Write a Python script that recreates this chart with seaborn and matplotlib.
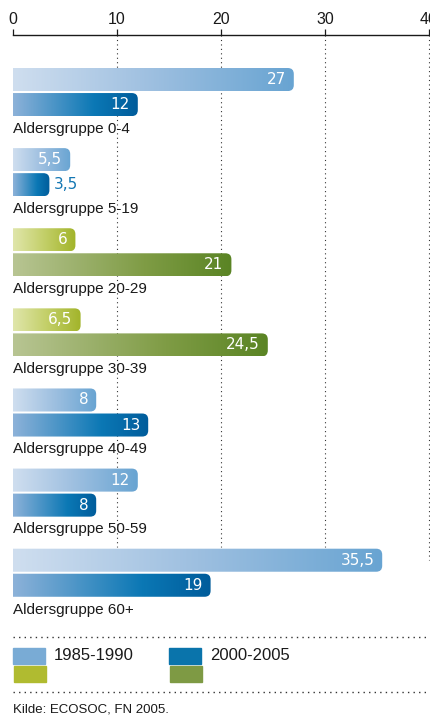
import numpy as np
import pandas as pd
import matplotlib
matplotlib.use("Agg")
import matplotlib.pyplot as plt
import seaborn as sns
from matplotlib.colors import LinearSegmentedColormap
from matplotlib.path import Path
from matplotlib.patches import PathPatch, Rectangle
from matplotlib.lines import Line2D

groups = ["Aldersgruppe 0-4", "Aldersgruppe 5-19", "Aldersgruppe 20-29",
          "Aldersgruppe 30-39", "Aldersgruppe 40-49", "Aldersgruppe 50-59",
          "Aldersgruppe 60+"]
periods = ["1985-1990", "2000-2005"]
v_1985 = [27, 5.5, 6, 6.5, 8, 12, 35.5]
v_2000 = [12, 3.5, 21, 24.5, 13, 8, 19]
palette = ["blue", "blue", "green", "green", "blue", "blue", "blue"]
ticks = [0, 10, 20, 30, 40]
source = "Kilde: ECOSOC, FN 2005."

grad = {
    ("blue", 0): LinearSegmentedColormap.from_list("b0", ["#cfdeef", "#9dbfe0", "#68a4d2"]),
    ("blue", 1): LinearSegmentedColormap.from_list("b1", [(0, "#8db2d9"), (0.65, "#0b78b5"), (1, "#005c9b")]),
    ("green", 0): LinearSegmentedColormap.from_list("g0", ["#e0e6ab", "#c3cf68", "#a2b42a"]),
    ("green", 1): LinearSegmentedColormap.from_list("g1", [(0, "#b8c593"), (0.6, "#7f9c45"), (1, "#5a8424")]),
}
legend_colors = {("blue", 0): "#79abd5", ("blue", 1): "#0a74ab",
                 ("green", 0): "#b0bb30", ("green", 1): "#7e9a44"}

df = pd.DataFrame({
    "group": groups * 2,
    "period": [periods[0]] * len(groups) + [periods[1]] * len(groups),
    "value": v_1985 + v_2000,
})

W, H = 431, 717
plt.rcParams["font.family"] = ["Liberation Sans", "DejaVu Sans"]
fig = plt.figure(figsize=(W / 100, H / 100), dpi=100)
ax = fig.add_axes([13 / W, 1 - 620 / H, 416 / W, (620 - 35) / H])

sns.barplot(data=df, x="value", y="group", hue="period", hue_order=periods,
            orient="h", width=0.625, dodge=True, errorbar=None, legend=False, ax=ax)

ylim = (6.59, -0.712)
xlim = (0, 40)
px_x = 416 / 40.0
px_y = 80.1
rx = 6 / px_x
ry = 6 / px_y

for p in list(ax.patches):
    x0 = p.get_x()
    w = p.get_width()
    yc = p.get_y() + p.get_height() / 2
    h = p.get_height() - 2 / px_y
    gi = int(round(yc))
    k = 0 if yc < gi else 1
    p.set_visible(False)
    x1 = x0 + w
    y0, y1 = yc - h / 2, yc + h / 2
    verts = [(x0, y0), (x1 - rx, y0), (x1, y0), (x1, y0 + ry), (x1, y1 - ry),
             (x1, y1), (x1 - rx, y1), (x0, y1), (x0, y0)]
    codes = [Path.MOVETO, Path.LINETO, Path.CURVE3, Path.CURVE3, Path.LINETO,
             Path.CURVE3, Path.CURVE3, Path.LINETO, Path.CLOSEPOLY]
    clip = PathPatch(Path(verts, codes), facecolor="none", edgecolor="none")
    ax.add_patch(clip)
    g = np.linspace(0, 1, 256).reshape(1, -1)
    im = ax.imshow(g, extent=[x0, x1, y1, y0], aspect="auto",
                   cmap=grad[(palette[gi], k)], zorder=3, interpolation="bicubic")
    im.set_clip_path(clip)
    label = f"{w:g}".replace(".", ",")
    if w * px_x < 45:
        ax.text(x1 + 4 / px_x, yc, label, ha="left", va="center",
                fontsize=11, family="DejaVu Sans", color="#1477b3", zorder=4)
    else:
        ax.text(x1 - 8 / px_x, yc, label, ha="right", va="center",
                fontsize=11, family="DejaVu Sans", color="white", zorder=4)

for i, name in enumerate(groups):
    ax.text(0, i + 0.46, name, ha="left", va="center", fontsize=11, color="#1a1a1a")

# dotted grid stops just above the last group; the 40 line runs a bit further
grid_end = [5.68, 5.68, 5.68, 5.84]
for t, yend in zip(ticks[1:], grid_end):
    ax.plot([t, t], [ylim[1], yend], color="#333333", linewidth=0.8,
            linestyle=(0, (1, 3)), zorder=1, clip_on=False)

ax.set_xlim(*xlim)
ax.set_ylim(*ylim)
ax.set_xticks(ticks)
ax.xaxis.tick_top()
ax.tick_params(axis="x", direction="out", length=4, width=0.9, pad=2,
               labelsize=11.5, colors="#1a1a1a")
ax.set_yticks([])
ax.set_xlabel("")
ax.set_ylabel("")
for s in ["left", "right", "bottom"]:
    ax.spines[s].set_visible(False)
ax.spines["top"].set_linewidth(1.0)
ax.spines["top"].set_color("#1a1a1a")
ax.patch.set_alpha(0)

def fy(py):
    return 1 - py / H

def fx(px):
    return px / W

for py in [637, 692]:
    fig.add_artist(Line2D([fx(13), fx(429)], [fy(py), fy(py)], color="#333333",
                          linewidth=1.0, linestyle=(0, (1, 3))))

for k, left, tx in [(0, 13, 54), (1, 169, 210)]:
    fig.add_artist(Rectangle((fx(left), fy(664)), 32 / W, 16 / H,
                             color=legend_colors[("blue", k)], transform=fig.transFigure))
    fig.add_artist(Rectangle((fx(left + 1), fy(682)), 32 / W, 16 / H,
                             color=legend_colors[("green", k)], transform=fig.transFigure))
    fig.text(fx(tx), fy(656), periods[k], ha="left", va="center", fontsize=12, color="#1a1a1a")

fig.text(fx(13), fy(710), source, ha="left", va="center", fontsize=9.5, color="#1a1a1a")

fig.savefig("out.png", dpi=100)
